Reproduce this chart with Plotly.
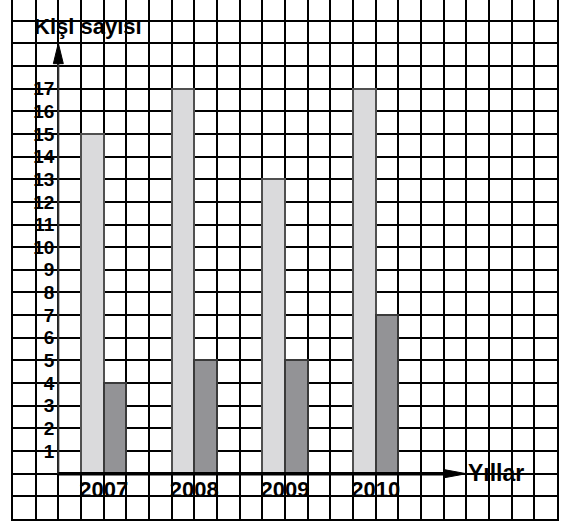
import plotly.graph_objects as go

years = ["2007", "2008", "2009", "2010"]
light_values = [15, 17, 13, 17]
dark_values = [4, 5, 5, 7]
y_tick_values = list(range(1, 18))
y_title = "Kişi sayısı"
x_title = "Yıllar"

FONT = "Arial"
GRID_X = [-2, 22]
GRID_Y = [-2, 20.91]

# bar centres on the grid (one cell wide, pairs every 4 cells)
light_x = [4 * i + 1.5 for i in range(len(years))]
dark_x = [4 * i + 2.5 for i in range(len(years))]
label_x = [4 * i + 2 for i in range(len(years))]

fig = go.Figure()
fig.add_trace(go.Bar(x=light_x, y=light_values, width=1,
                     marker=dict(color="#dadadc", line=dict(color="#505050", width=2)),
                     showlegend=False, hoverinfo="skip"))
fig.add_trace(go.Bar(x=dark_x, y=dark_values, width=1,
                     marker=dict(color="#939396", line=dict(color="#3a3a3a", width=2)),
                     showlegend=False, hoverinfo="skip"))
# invisible trace so the label axes render
fig.add_trace(go.Scatter(x=[0], y=[0], xaxis="x2", yaxis="y2", mode="markers",
                         marker=dict(opacity=0), showlegend=False, hoverinfo="skip"))

# axes lines (decoration)
fig.add_shape(type="line", xref="x", yref="y", x0=0, y0=0, x1=0, y1=18.2,
              line=dict(color="#333333", width=2))
fig.add_shape(type="path", xref="x", yref="y",
              path="M 0 19 L -0.22 18.1 L 0.22 18.1 Z",
              fillcolor="black", line=dict(color="black", width=1))
fig.add_shape(type="line", xref="x", yref="y", x0=0, y0=0, x1=17.1, y1=0,
              line=dict(color="black", width=3.5))
fig.add_shape(type="path", xref="x", yref="y",
              path="M 18 0 L 17.02 0.18 L 17.02 -0.18 Z",
              fillcolor="black", line=dict(color="black", width=1))

fig.add_annotation(text="<b>" + y_title + "</b>", xref="x", yref="y", x=1.29, y=19.75,
                   showarrow=False, font=dict(family=FONT, size=22, color="black"))
fig.add_annotation(text="<b>" + x_title + "</b>", xref="x", yref="y", x=18.0, y=0.05,
                   xanchor="left", showarrow=False,
                   font=dict(family=FONT, size=23, color="black"))

fig.update_layout(
    width=563, height=524,
    margin=dict(l=13, r=6, t=0, b=5, autoexpand=False),
    paper_bgcolor="white", plot_bgcolor="white",
    bargap=0,
    xaxis=dict(range=GRID_X, dtick=1, tick0=0, showgrid=True, gridcolor="black",
               gridwidth=1.8, showticklabels=False, ticks="", zeroline=False,
               automargin=False,
               showline=True, linecolor="black", linewidth=1.8, mirror=False),
    yaxis=dict(range=GRID_Y, dtick=1, tick0=0, showgrid=True, gridcolor="black",
               gridwidth=1.8, showticklabels=False, ticks="", zeroline=False,
               automargin=False,
               showline=True, linecolor="black", linewidth=1.8, mirror=True),
    xaxis2=dict(overlaying="x", anchor="free", position=2 / 22.91, range=GRID_X,
                tickvals=label_x, ticktext=["<b>" + y + "</b>" for y in years],
                showgrid=False, zeroline=False, automargin=False,
                showline=False, ticks="",
                tickfont=dict(family=FONT, size=22, color="black")),
    yaxis2=dict(overlaying="y", anchor="free", position=2 / 24, side="left",
                range=GRID_Y, tickvals=y_tick_values, automargin=False,
                ticktext=["<b>" + str(v) + "</b>" for v in y_tick_values],
                showgrid=False, zeroline=False, showline=False, ticks="",
                ticklabelstandoff=4,
                tickfont=dict(family=FONT, size=19, color="black")),
)

fig.write_html("out.html", config={"displayModeBar": False},
               post_script="document.body.style.margin='0px';document.body.style.padding='0px';")
